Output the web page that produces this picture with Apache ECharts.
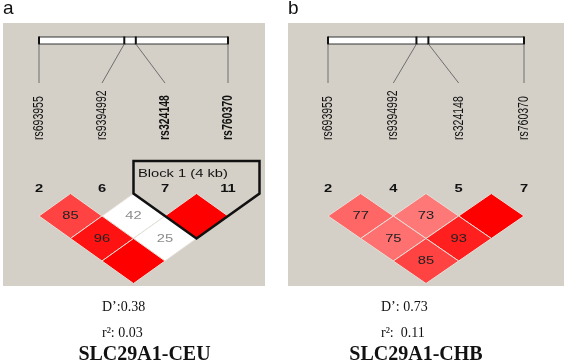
<!DOCTYPE html>
<html>
<head>
<meta charset="utf-8">
<script src="https://cdn.jsdelivr.net/npm/echarts@6/dist/echarts.min.js"></script>
<style>
html, body { margin: 0; padding: 0; background: #fff; }
#main { width: 567px; height: 362px; }
</style>
</head>
<body>
<div id="main"></div>
<script>
/*---------- data ----------*/
var snpNames = ['rs693955', 'rs9394992', 'rs324148', 'rs760370'];
var snpPosKb = [0, 3.7, 4.2, 8.2];           // relative position on the gene map
var ceuNums = ['2', '6', '7', '11'];
var chbNums = ['2', '4', '5', '7'];
var ceuBoldNames = ['rs324148', 'rs760370'];
var chbBoldNames = [];
// [marker i, marker j, D' x100, LOD>2]
var ceuLD = [[0, 1, 85, 1], [1, 2, 42, 0], [2, 3, 100, 1], [0, 2, 96, 1], [1, 3, 25, 0], [0, 3, 100, 1]];
var chbLD = [[0, 1, 77, 1], [1, 2, 73, 1], [2, 3, 100, 1], [0, 2, 75, 1], [1, 3, 93, 1], [0, 3, 85, 1]];
var ceuBlocks = [[2, 3]];
var panelTags = ['a', 'b'];
var dPrimeAvg = ['0.38', '0.73'];
var r2Avg = ['0.03', '0.11'];
var panelNames = ['SLC29A1-CEU', 'SLC29A1-CHB'];

var HV_FONT = '10.5px "Liberation Sans", Arial, sans-serif';
var HV_BOLD = 'bold 10.5px "Liberation Sans", Arial, sans-serif';
var SERIF = '"Liberation Serif", "Times New Roman", serif';
var STRETCH = 1.4; // haploview picture is stretched horizontally

// haploview standard colour scheme
function ldColor(d, strong) {
	if (!strong) return '#ffffff';
	if (d >= 100) return 'rgb(255,0,0)';
	var g = Math.round((255 - 32) * 2 * (1 - d / 100));
	return 'rgb(255,' + g + ',' + g + ')';
}

function renderCell(params, api) {
	var i = api.value(0), j = api.value(1), d = api.value(2), strong = api.value(3);
	var cx = (i + j) / 2, lv = j - i;
	var top = api.coord([cx, lv - 1]);
	var right = api.coord([cx + 0.5, lv]);
	var bottom = api.coord([cx, lv + 1]);
	var left = api.coord([cx - 0.5, lv]);
	var mid = api.coord([cx, lv]);
	var children = [{
		type: 'polygon',
		shape: { points: [top, right, bottom, left] },
		style: { fill: ldColor(d, strong), stroke: '#e4e0d8', lineWidth: 1 }
	}];
	if (d < 100) {
		children.push({
			type: 'text', x: mid[0], y: mid[1] + 0.5, scaleX: STRETCH,
			style: {
				text: String(d), align: 'center', verticalAlign: 'middle',
				font: HV_FONT, fill: strong ? '#222' : '#8c8c8c'
			}
		});
	}
	return { type: 'group', children: children };
}

function makeMapRender(nums, boldNames) {
	return function (params, api) {
		var i = params.dataIndex;
		var n = snpNames.length;
		var base = api.coord([i, 0]);
		var y0 = base[1];
		var tickX = api.coord([snpPosKb[i] / snpPosKb[n - 1] * (n - 1), 0])[0];
		var children = [];
		if (i === 0) {
			var x0 = api.coord([0, 0])[0], x1 = api.coord([n - 1, 0])[0];
			children.push({
				type: 'rect',
				shape: { x: x0, y: y0 - 156.5, width: x1 - x0, height: 7 },
				style: { fill: '#fff', stroke: '#333', lineWidth: 1 }
			});
		}
		children.push({
			type: 'line',
			shape: { x1: tickX, y1: y0 - 157, x2: tickX, y2: y0 - 149 },
			style: { stroke: '#111', lineWidth: 2 }
		});
		children.push({
			type: 'line',
			shape: { x1: tickX, y1: y0 - 149.5, x2: base[0], y2: y0 - 110.5 },
			style: { stroke: '#6e6e6e', lineWidth: 1 }
		});
		var bold = boldNames.indexOf(snpNames[i]) >= 0;
		children.push({
			type: 'text', x: base[0], y: y0 - 53.5, rotation: Math.PI / 2, scaleY: STRETCH,
			style: {
				text: snpNames[i], align: 'left', verticalAlign: 'middle',
				font: bold ? HV_BOLD : HV_FONT, fill: '#111'
			}
		});
		children.push({
			type: 'text', x: base[0], y: y0 - 4.5, scaleX: STRETCH,
			style: { text: nums[i], align: 'center', verticalAlign: 'middle', font: HV_BOLD, fill: '#111' }
		});
		return { type: 'group', children: children };
	};
}

function renderBlock(params, api) {
	var s = api.value(0), e = api.value(1);
	var p0 = api.coord([s - 0.5, 0]);
	var p1 = api.coord([e + 0.5, 0]);
	var p2 = api.coord([(s + e) / 2, e - s + 1]);
	var topY = p0[1] - 32.5;
	var kb = snpPosKb[e] - snpPosKb[s];
	return {
		type: 'group',
		children: [{
			type: 'polygon',
			shape: { points: [[p0[0], topY], [p1[0], topY], p1, p2, p0] },
			style: { fill: 'none', stroke: '#111', lineWidth: 2.5, lineJoin: 'miter' }
		}, {
			type: 'text', x: p0[0] + 4.5, y: topY + 13, scaleX: STRETCH,
			style: {
				text: 'Block ' + (params.dataIndex + 1) + ' (' + Math.round(kb) + ' kb)',
				align: 'left', verticalAlign: 'middle', font: HV_FONT, fill: '#111'
			}
		}]
	};
}

var snpIdx = snpNames.map(function (s, i) { return [i, 0]; });

/*---------- text around the panels ----------*/
var panelLeft = [3, 288], panelWidth = [262, 276];
var statLeft = [102, 381], nameCenter = [144.5, 416];
var graphic = [];
panelTags.forEach(function (t, k) {
	graphic.push({
		type: 'rect', z: -10,
		shape: { x: panelLeft[k], y: 23, width: panelWidth[k], height: 263 },
		style: { fill: '#d4d0c8' }
	});
	graphic.push({
		type: 'text', x: panelLeft[k], y: 9,
		style: { text: t, font: '19px "Liberation Sans", Arial, sans-serif', fill: '#111', textAlign: 'left', textVerticalAlign: 'middle', align: 'left', verticalAlign: 'middle' }
	});
	graphic.push({
		type: 'text', x: statLeft[k], y: 307,
		style: { text: 'D\u2019:' + (k ? ' ' : '') + dPrimeAvg[k], font: '14px ' + SERIF, fill: '#111', textAlign: 'left', textVerticalAlign: 'middle', align: 'left', verticalAlign: 'middle' }
	});
	graphic.push({
		type: 'text', x: statLeft[k], y: 333,
		style: { text: 'r\u00b2:' + (k ? '  ' : ' ') + r2Avg[k], font: '14px ' + SERIF, fill: '#111', textAlign: 'left', textVerticalAlign: 'middle', align: 'left', verticalAlign: 'middle' }
	});
	graphic.push({
		type: 'text', x: nameCenter[k], y: 355,
		style: { text: panelNames[k], font: 'bold 20px ' + SERIF, fill: '#111', textAlign: 'center', textVerticalAlign: 'middle', align: 'center', verticalAlign: 'middle' }
	});
});

echarts.init(document.getElementById('main')).setOption({
	animation: false,
	backgroundColor: '#ffffff',
	graphic: graphic,
	grid: [
		{ left: 39, top: 193.5, width: 189, height: 90 },
		{ left: 328, top: 193.5, width: 196, height: 90 }
	],
	xAxis: [
		{ gridIndex: 0, type: 'value', min: 0, max: 3, show: false },
		{ gridIndex: 1, type: 'value', min: 0, max: 3, show: false }
	],
	yAxis: [
		{ gridIndex: 0, type: 'value', min: 0, max: 4, inverse: true, show: false },
		{ gridIndex: 1, type: 'value', min: 0, max: 4, inverse: true, show: false }
	],
	series: [
		{ type: 'custom', silent: true, xAxisIndex: 0, yAxisIndex: 0, renderItem: makeMapRender(ceuNums, ceuBoldNames), data: snpIdx },
		{ type: 'custom', silent: true, xAxisIndex: 0, yAxisIndex: 0, renderItem: renderCell, data: ceuLD },
		{ type: 'custom', silent: true, xAxisIndex: 0, yAxisIndex: 0, renderItem: renderBlock, data: ceuBlocks },
		{ type: 'custom', silent: true, xAxisIndex: 1, yAxisIndex: 1, renderItem: makeMapRender(chbNums, chbBoldNames), data: snpIdx },
		{ type: 'custom', silent: true, xAxisIndex: 1, yAxisIndex: 1, renderItem: renderCell, data: chbLD }
	]
});
</script>
</body>
</html>
